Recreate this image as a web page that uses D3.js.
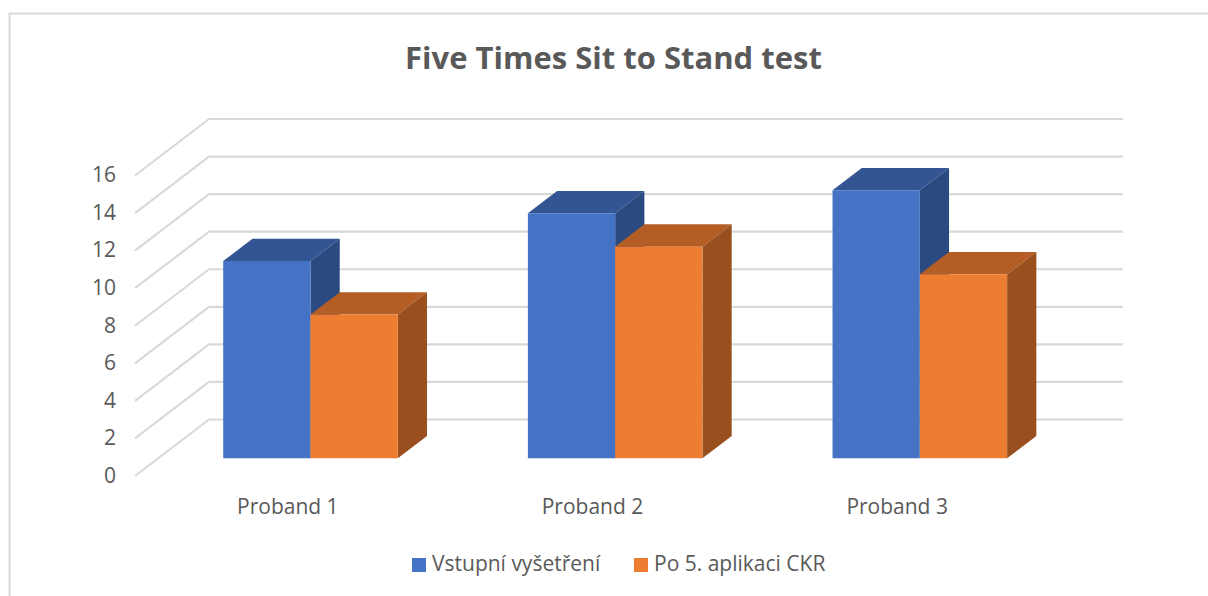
<!DOCTYPE html>
<html><head><meta charset="utf-8">
<script src="https://cdn.jsdelivr.net/npm/d3@7"></script>
<style>html,body{margin:0;padding:0;background:#fff}svg{display:block}text{font-family:"Open Sans",sans-serif;fill:#595959}</style>
</head><body><svg id="c" width="1208" height="596"></svg>
<script>
const categories = ["Proband 1","Proband 2","Proband 3"];
const seriesNames = ["Vstupní vyšetření","Po 5. aplikaci CKR"];
const vstupni = [10.5,13.05,14.27];
const po5 = [7.66,11.27,9.8];
const yTicks = [0,2,4,6,8,10,12,14,16];
const faceColors = ["#4472c4","#ed7d31"];
const topColors = ["#335593","#b45e25"];
const sideColors = ["#2b4a80","#994f1e"];

const svg = d3.select("#c");
const frontX0 = 135, frontY0 = 476, depthX = 74, depthY = -56.5, plotW = 914;
const y = d3.scaleLinear().domain([0,16]).range([0,-300.5]);
const depth = d3.scaleLinear().domain([0,1]).range([0,1]);
const x = d3.scaleBand().domain(categories).range([0,plotW]);
const barFrac = 0.2865;
const inner = d3.scaleBand().domain(seriesNames)
  .range([x.bandwidth()/2 - barFrac*x.bandwidth(), x.bandwidth()/2 + barFrac*x.bandwidth()]);
const proj = (px, v, t) => [frontX0 + px + depthX*depth(t), frontY0 + y(v) + depthY*depth(t)];
const poly = pts => pts.map(p=>p.join(",")).join(" ");

// chart frame
svg.append("path").attr("d","M9.5,596V13.5H1208").attr("fill","none").attr("stroke","#d9d9d9").attr("stroke-width",2);

// walls
svg.append("g").selectAll("polyline").data(yTicks).join("polyline")
  .attr("points", d=>poly([proj(0,d,0),proj(0,d,1),proj(plotW,d,1)]))
  .attr("fill","none").attr("stroke","#d9d9d9").attr("stroke-width",2.2);

// bars
const t0 = 0.313, t1 = 0.708;
const rows = [vstupni, po5];
const bars = svg.append("g");
categories.forEach((c,ci)=>{
  seriesNames.forEach((s,si)=>{
    const v = rows[si][ci];
    const a = x(c)+inner(s), b = a+inner.bandwidth();
    const g = bars.append("g");
    g.append("polygon").attr("fill",topColors[si])
      .attr("points",poly([proj(a,v,t0),proj(b,v,t0),proj(b,v,t1),proj(a,v,t1)]));
    g.append("polygon").attr("fill",sideColors[si])
      .attr("points",poly([proj(b,0,t0),proj(b,v,t0),proj(b,v,t1),proj(b,0,t1)]));
    g.append("polygon").attr("fill",faceColors[si])
      .attr("points",poly([proj(a,0,t0),proj(b,0,t0),proj(b,v,t0),proj(a,v,t0)]));
  });
});

// y labels
svg.append("g").selectAll("text").data(yTicks).join("text")
  .attr("x",116).attr("y",d=>proj(0,d,0)[1]-0.5).attr("dy","0.35em")
  .attr("text-anchor","end").attr("font-size",21).text(d=>d);

// category labels
svg.append("g").selectAll("text").data(categories).join("text")
  .attr("x",d=>proj(x(d)+x.bandwidth()/2,0,0)[0]+0.5).attr("y",514)
  .attr("text-anchor","middle").attr("font-size",21).text(d=>d);

// title
svg.append("text").attr("x",613.5).attr("y",69).attr("text-anchor","middle")
  .attr("font-size",31).attr("font-weight",700).text("Five Times Sit to Stand test");

// legend
const legendX = [412,634];
const lg = svg.append("g").selectAll("g").data(seriesNames).join("g");
lg.append("rect").attr("x",(d,i)=>legendX[i]).attr("y",558).attr("width",14).attr("height",14)
  .attr("fill",(d,i)=>faceColors[i]);
lg.append("text").attr("x",(d,i)=>legendX[i]+20).attr("y",571).attr("font-size",21).text(d=>d);
</script></body></html>
